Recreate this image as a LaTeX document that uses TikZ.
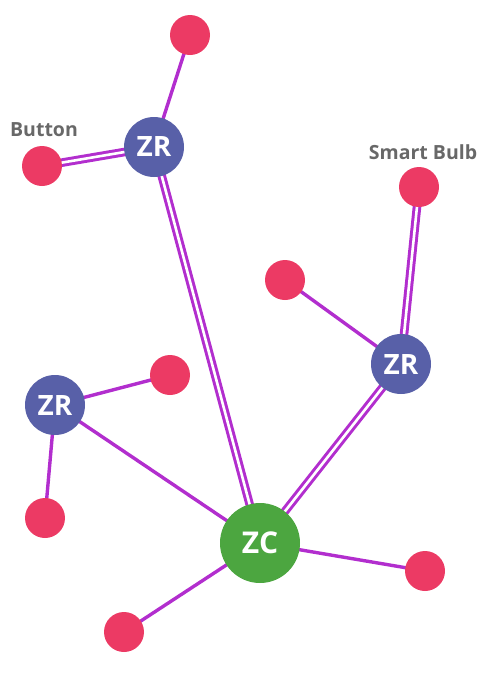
\documentclass[tikz,border=0pt]{standalone}
\usepackage{fontspec}
\setmainfont{Open Sans}
\usetikzlibrary{backgrounds}
\definecolor{linkc}{RGB}{178,46,206}
\definecolor{devc}{RGB}{236,58,100}
\definecolor{zrc}{RGB}{88,96,168}
\definecolor{zcc}{RGB}{76,166,64}
\definecolor{labc}{RGB}{104,104,104}
\tikzset{
  dev/.style={circle,fill=devc,minimum size=40pt,inner sep=0pt},
  router/.style={circle,fill=zrc,minimum size=60pt,inner sep=0pt,text=white,font=\fontsize{28}{28}\selectfont\bfseries},
  coord/.style={circle,fill=zcc,minimum size=80pt,inner sep=0pt,text=white,font=\fontsize{30}{30}\selectfont\bfseries},
  lab/.style={text=labc,font=\fontsize{19.5}{21}\selectfont\bfseries,inner sep=0pt},
  single/.style={draw=linkc,line width=3.4pt},
  dbl/.style={draw=linkc,line width=3pt,double=white,double distance=2.6pt}
}
\begin{document}
\begin{tikzpicture}[x=1pt,y=-1pt]
\useasboundingbox (0,0) rectangle (500,673);
\node[dev] (d1) at (190,35) {};
\node[router] (zr1) at (154,147) {ZR};
\node[dev] (btn) at (42,166) {};
\node[lab] (btnl) at (44,130) {Button};
\node[dev] (bulb) at (419,187) {};
\node[lab] (bulbl) at (423,152) {Smart Bulb};
\node[dev] (d2) at (285,280) {};
\node[router] (zr2) at (401,364) {ZR};
\node[dev] (d3) at (170,375) {};
\node[router] (zr3) at (55,405) {ZR};
\node[dev] (d4) at (45,518) {};
\node[coord] (zc) at (260,543) {ZC};
\node[dev] (d5) at (425,571) {};
\node[dev] (d6) at (124,632) {};
\begin{scope}[on background layer]
\draw[single] (d1.center) -- (zr1.center);
\draw[dbl] (btn.center) -- (zr1.center);
\draw[dbl] (zr1.center) -- (zc.center);
\draw[dbl] (bulb.center) -- (zr2.center);
\draw[single] (d2.center) -- (zr2.center);
\draw[dbl] (zr2.center) -- (zc.center);
\draw[single] (zr3.center) -- (d3.center);
\draw[single] (zr3.center) -- (d4.center);
\draw[single] (zr3.center) -- (zc.center);
\draw[single] (zc.center) -- (d5.center);
\draw[single] (zc.center) -- (d6.center);
\end{scope}
\end{tikzpicture}
\end{document}
